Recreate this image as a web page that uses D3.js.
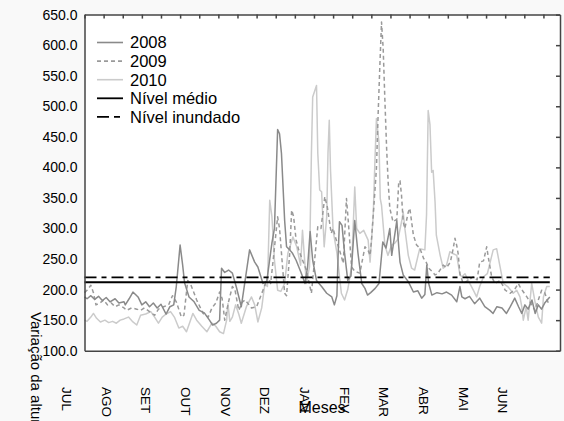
<!DOCTYPE html>
<html><head><meta charset="utf-8">
<script src="https://cdn.jsdelivr.net/npm/d3@7"></script>
<style>
html,body{margin:0;padding:0;background:#f9f9f9;}
svg{display:block;font-family:"Liberation Sans",Arial,sans-serif;}
</style></head>
<body><svg id="c" width="564" height="421"></svg>
<script>
// ---- data (day of hydrological year from 1 July, water level) ----
const months = ["JUL","AGO","SET","OUT","NOV","DEZ","JAN","FEV","MAR","ABR","MAI","JUN"];
const yTicks = [100,150,200,250,300,350,400,450,500,550,600,650];
const seriesNames = ["2008","2009","2010"];
const nivelMedio = 212;
const nivelInundado = 220;

const s2008 = [[0,188],[2,185],[5,190],[8,184],[11,189],[14,182],[17,187],[20,180],[24,185],[27,178],[31,180],[32,175],[35,185],[38,196],[42,188],[45,175],[48,180],[51,172],[54,178],[57,170],[60,176],[64,160],[67,172],[70,175],[72,205],[75,273],[77,240],[78.5,211],[82,188],[86,180],[90,166],[94,162],[98,150],[100.5,142],[103.5,145],[106,150],[107.5,235],[110,228],[113,232],[116,227],[119,205],[123,172],[126,215],[129.5,265],[133.5,245],[136,237],[140,210],[143,214],[147,276],[149,300],[151.5,462],[153,455],[154.5,423],[157,313],[158.5,270],[161,265],[163,260],[166,248],[170,227],[173,210],[175,237],[177,295],[179,248],[182,215],[186,205],[190,194],[194,188],[196,175],[198,190],[199,260],[200,311],[202,305],[204,260],[206.5,215],[209,222],[212,313],[214.5,260],[217.5,210],[220,202],[222,191],[224.5,195],[228,202],[231,210],[234,278],[236.5,268],[239.5,300],[241,256],[245,313],[246.5,270],[247.5,245],[250,224],[254,213],[258,196],[261.5,198],[264.5,186],[267,192],[268.5,240],[270,210],[272.5,191],[276.5,195],[280.5,193],[284,196],[288,191],[292,180],[294.5,205],[296,188],[298.5,185],[302,189],[306,177],[310,186],[314,172],[318,166],[320.5,161],[323.5,172],[327.5,170],[331,161],[334,172],[337.5,186],[340.5,172],[343,161],[345.5,175],[348,168],[351,183],[353.5,161],[356,175],[358.5,168],[361,178],[363,183],[365,188]];

const s2009 = [[0,195],[2,199],[5,207],[7,195],[9,175],[12,178],[15,183],[18,175],[21,178],[24,172],[27,175],[31,170],[33,166],[37,170],[41,168],[44,166],[47,170],[51,164],[55,158],[58,168],[62,172],[66,175],[69,190],[72,180],[76,155],[78,158],[81,215],[83,210],[88,183],[93,161],[97,155],[100,170],[103,178],[106,196],[108,185],[110,150],[113,180],[116,205],[118,200],[121,166],[124,180],[126,183],[131,170],[135,172],[140,199],[144,221],[146,210],[148,248],[151.5,319],[153,300],[154.5,260],[157,194],[158.5,190],[161,260],[162.5,330],[164,320],[166,281],[168,265],[174,232],[178,194],[180.5,248],[183,303],[185.5,300],[188.5,352],[190.5,335],[193.5,292],[195,300],[197.5,281],[200,265],[203,243],[205.5,349],[207,310],[209.5,237],[212,230],[216,227],[220,270],[222.5,264],[224,256],[225,278],[226.5,322],[229,398],[230.3,485],[231.7,567],[233,638],[234.3,594],[235.6,512],[237,431],[238.2,376],[239.5,333],[242,311],[245,315],[246.5,376],[247.5,378],[248.7,354],[250,311],[251.3,300],[254,327],[255.2,333],[258,289],[260.5,273],[263,268],[266,251],[268,245],[270,235],[272.5,230],[275,224],[277,226],[281.4,240],[284,236],[287,245],[289.2,267],[290.6,284],[292,272],[293.1,259],[294.5,226],[297,210],[301,215],[305,221],[308,216],[310,245],[313,247],[315.5,270],[317,250],[319.4,221],[322,210],[326,215],[330,199],[334,194],[337,199],[340.3,210],[342,203],[347,188],[349.5,180],[353.4,166],[355.5,180],[358.6,199],[361,195],[364,177]];

const s2010 = [[0,150],[2,148],[5,155],[7,161],[9.5,153],[12.5,147],[16,150],[19,146],[22,148],[25,145],[28,150],[31,152],[34.5,155],[37.5,148],[41,142],[44,158],[48,160],[52,164],[55,155],[58,145],[61,155],[64,160],[67.5,164],[70.5,155],[74,137],[77,140],[80,131],[85,161],[88,150],[92,140],[96,131],[100,145],[103,140],[106,131],[109,128],[111.5,150],[112.5,177],[114,148],[116,155],[118.5,175],[121,160],[123,145],[127,172],[131,188],[133.5,175],[136,147],[139,170],[141.5,210],[143.5,205],[145.3,346],[147,320],[149,248],[151.5,199],[154,197],[157,210],[159.5,259],[163.5,286],[166.5,270],[169.5,240],[171,297],[174,210],[176.5,237],[178,423],[179,515],[182,534],[183,423],[184.5,363],[186,360],[188,270],[190,319],[191,423],[192,477],[193,395],[195,297],[198,260],[201.5,194],[204,183],[206.5,200],[209.5,237],[212,368],[213.5,300],[216,292],[219,297],[222.5,281],[224,245],[226.5,322],[227.7,403],[229,480],[231,441],[232,349],[233,338],[235.6,273],[238,256],[241,273],[243.5,276],[246,283],[248.7,311],[250,327],[251.3,300],[254,256],[256.6,235],[259,232],[261.7,256],[263,267],[267,265],[268.3,322],[269.6,493],[271,470],[272.3,392],[273.5,395],[275,343],[276,289],[279,256],[281.4,235],[284,240],[286.6,262],[289,259],[292,256],[294.5,224],[296,221],[298.5,226],[301,215],[305,199],[307.6,188],[310,205],[313,221],[316,226],[318,243],[320.6,265],[323.3,267],[326,237],[328.5,210],[332,205],[336.3,194],[339,199],[341.6,188],[343,172],[344.2,150],[346.5,172],[348,150],[350.8,210],[353.4,180],[356,155],[358.6,145],[360,188],[362.6,205],[365,205]];

// ---- layout ----
const svg = d3.select("#c");
const L = 84.5, R = 560, T = 14.6, B = 350.7;
const x = d3.scaleLinear().domain([0, 373]).range([L, R]);
const y = d3.scaleLinear().domain([100, 650]).range([B, T]);
const font = '"Liberation Sans",Arial,sans-serif';

svg.append("rect").attr("x", L).attr("y", T).attr("width", R - L).attr("height", B - T).attr("fill", "#fff");

const line = d3.line().x(d => x(d[0])).y(d => y(d[1]));
const styles = {
  "2008": {stroke: "#8a8a8a", dash: null},
  "2009": {stroke: "#9a9a9a", dash: "4,3"},
  "2010": {stroke: "#cbcbcb", dash: null}
};
const seriesData = {"2008": s2008, "2009": s2009, "2010": s2010};
["2010","2009","2008"].forEach(k => {
  svg.append("path").datum(seriesData[k]).attr("d", line)
    .attr("fill", "none").attr("stroke", styles[k].stroke).attr("stroke-width", 1.5)
    .attr("stroke-dasharray", styles[k].dash).attr("stroke-linejoin", "round");
});

// reference lines
svg.append("line").attr("x1", x(0)).attr("x2", x(365)).attr("y1", y(nivelMedio)).attr("y2", y(nivelMedio))
  .attr("stroke", "#000").attr("stroke-width", 1.8);
svg.append("line").attr("x1", x(0)).attr("x2", x(365)).attr("y1", y(nivelInundado)).attr("y2", y(nivelInundado))
  .attr("stroke", "#000").attr("stroke-width", 1.8).attr("stroke-dasharray", "12,5,5,5");

// axes frame
const frameCol = "#444";
const gTop = svg.append("g").attr("transform", `translate(0,${T})`)
  .call(d3.axisTop(x).tickValues(d3.range(0, 373, 15)).tickSize(-4).tickSizeOuter(0).tickFormat(""));
const gRight = svg.append("g").attr("transform", `translate(${R},0)`)
  .call(d3.axisRight(y).tickValues(yTicks).tickSize(-4).tickSizeOuter(0).tickFormat(""));
const gLeft = svg.append("g").attr("transform", `translate(${L},0)`)
  .call(d3.axisLeft(y).tickValues(yTicks).tickSize(0).tickPadding(7).tickFormat(d3.format(".1f")));
const gBottom = svg.append("g").attr("transform", `translate(0,${B})`)
  .call(d3.axisBottom(x).tickValues([]).tickSizeOuter(0));
[gTop, gRight, gLeft, gBottom].forEach(g => {
  g.selectAll("path,line").attr("stroke", frameCol).attr("stroke-width", 1.5);
});
gLeft.selectAll("text").attr("font-family", font).attr("font-size", 14).attr("fill", "#000");

// month labels (rotated)
const mx = d3.scalePoint().domain(months).range([67, 503]);
svg.append("g").selectAll("text").data(months).join("text")
  .attr("transform", d => `translate(${mx(d) - 4.8},387) rotate(90)`)
  .attr("font-family", font).attr("font-size", 13.5).attr("fill", "#000")
  .text(d => d);

// axis titles
svg.append("text").attr("x", 322).attr("y", 412.5).attr("text-anchor", "middle")
  .attr("font-family", font).attr("font-size", 16).attr("fill", "#000").text("Meses");
svg.append("text").attr("transform", "translate(31,312) rotate(90)")
  .attr("font-family", font).attr("font-size", 15).attr("fill", "#000").text("Variação da altura (cm)");

// legend
const legendItems = [
  {label: "2008", stroke: styles["2008"].stroke, dash: null},
  {label: "2009", stroke: styles["2009"].stroke, dash: "4,3"},
  {label: "2010", stroke: styles["2010"].stroke, dash: null},
  {label: "Nível médio", stroke: "#000", dash: null},
  {label: "Nível inundado", stroke: "#000", dash: "12,5,6,5"}
];
const lg = svg.append("g").selectAll("g").data(legendItems).join("g")
  .attr("transform", (d, i) => `translate(97,${42.5 + i * 18.6})`);
lg.append("line").attr("x1", 0).attr("x2", 26).attr("y1", 0).attr("y2", 0)
  .attr("stroke", d => d.stroke).attr("stroke-width", d => d.stroke === "#000" ? 1.8 : 1.6)
  .attr("stroke-dasharray", d => d.dash);
lg.append("text").attr("x", 33).attr("y", 0).attr("dy", "0.36em")
  .attr("font-family", font).attr("font-size", 16.5).attr("fill", "#000").text(d => d.label);
</script></body></html>
